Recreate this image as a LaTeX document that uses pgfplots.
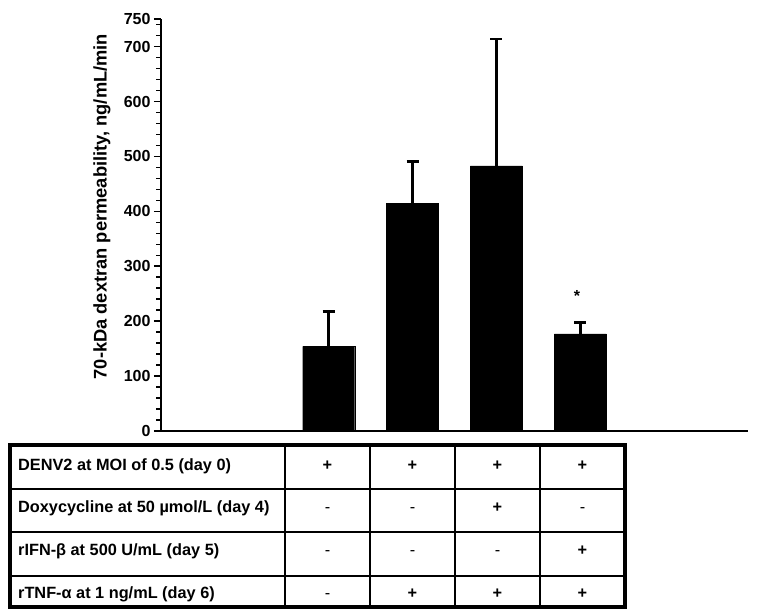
\documentclass[border=0pt]{standalone}
\usepackage{fontspec}
\setmainfont{Liberation Sans}
\usepackage{pgfplots}
\pgfplotsset{compat=1.18}
\begin{document}
\begin{tikzpicture}
\useasboundingbox (-161pt,-183pt) rectangle (597pt,431pt);
\begin{axis}[
    at={(0pt,0pt)}, anchor=south west,
    scale only axis, width=587pt, height=411.8pt,
    xmin=-1, xmax=6, ymin=0, ymax=750,
    axis x line=none, axis y line=left,
    y axis line style={-, line width=2.2pt},
    ytick={0,100,...,700,750},
    minor ytick={20,40,...,740},
    tick align=outside,
    major tick length=7pt, minor tick length=4.5pt,
    every tick/.style={black, line width=1.6pt},
    yticklabel style={font=\fontsize{16}{19}\selectfont\bfseries},
    /pgf/number format/assume math mode=true,
    ylabel={70-kDa dextran permeability, ng/mL/min},
    ylabel style={font=\fontsize{18.3}{21}\selectfont\bfseries,
        at={(axis description cs:-0.1005,0.545)}, anchor=center},
    clip=false,
]
\addplot[ybar, bar width=52pt, fill=black, draw=black,
    error bars/.cd, y dir=plus, y explicit,
    error bar style={line width=2.6pt, black},
    error mark options={black, rotate=90, line width=2.6pt, mark size=6pt}]
    coordinates {
    (1,154.3) +- (0,63.0)
    (2,414.8) +- (0,75.7)
    (3,482.7) +- (0,231.3)
    (4,176.7) +- (0,21.3)
};
\draw[line width=1.2pt] (axis cs:-1,0) -- (axis cs:0.33,0);
\draw[line width=2.2pt] (axis cs:0.33,0) -- (axis cs:6,0);
\node[anchor=base, font=\fontsize{16}{19}\selectfont\bfseries] at (axis cs:3.96,235) {*};
\end{axis}

\begin{scope}[font=\fontsize{16.3}{19}\selectfont\bfseries]
\foreach \x in {124,209,294,379}
    \draw[line width=1.8pt] (\x pt,-176pt) -- (\x pt,-14pt);
\foreach \y in {-58,-101,-145}
    \draw[line width=1.8pt] (-151pt,\y pt) -- (464pt,\y pt);
\draw[line width=3.2pt] (-151pt,-176pt) rectangle (464pt,-14pt);

\node[anchor=base west, inner sep=0] at (-143pt,-39pt) {DENV2 at MOI of 0.5 (day 0)};
\node[anchor=base west, inner sep=0] at (-143pt,-81pt) {Doxycycline at 50 µmol/L (day 4)};
\node[anchor=base west, inner sep=0] at (-143pt,-124pt) {rIFN-β at 500 U/mL (day 5)};
\node[anchor=base west, inner sep=0] at (-143pt,-167pt) {rTNF-α at 1 ng/mL (day 6)};

\node[anchor=base] at (166.5pt,-39pt) {+};
\node[anchor=base] at (251.5pt,-39pt) {+};
\node[anchor=base] at (336.5pt,-39pt) {+};
\node[anchor=base] at (421.5pt,-39pt) {+};

\node[anchor=base, font=\fontsize{16.3}{19}\selectfont] at (166.5pt,-81pt) {-};
\node[anchor=base, font=\fontsize{16.3}{19}\selectfont] at (251.5pt,-81pt) {-};
\node[anchor=base] at (336.5pt,-81pt) {+};
\node[anchor=base, font=\fontsize{16.3}{19}\selectfont] at (421.5pt,-81pt) {-};

\node[anchor=base, font=\fontsize{16.3}{19}\selectfont] at (166.5pt,-124pt) {-};
\node[anchor=base, font=\fontsize{16.3}{19}\selectfont] at (251.5pt,-124pt) {-};
\node[anchor=base, font=\fontsize{16.3}{19}\selectfont] at (336.5pt,-124pt) {-};
\node[anchor=base] at (421.5pt,-124pt) {+};

\node[anchor=base, font=\fontsize{16.3}{19}\selectfont] at (166.5pt,-167pt) {-};
\node[anchor=base] at (251.5pt,-167pt) {+};
\node[anchor=base] at (336.5pt,-167pt) {+};
\node[anchor=base] at (421.5pt,-167pt) {+};
\end{scope}
\end{tikzpicture}
\end{document}
